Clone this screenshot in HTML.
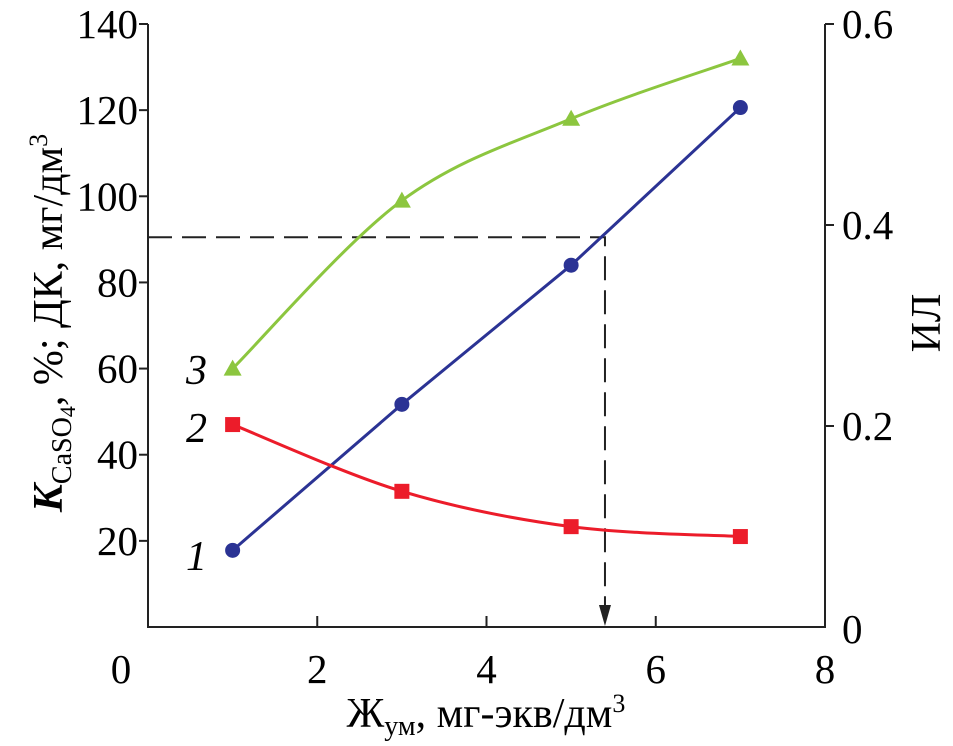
<!DOCTYPE html>
<html><head><meta charset="utf-8"><style>
html,body{margin:0;padding:0;background:#fff;}
svg{display:block;font-family:"Liberation Serif",serif;}
</style></head><body>
<svg id="chart" width="953" height="746" viewBox="0 0 953 746" xmlns="http://www.w3.org/2000/svg">
<g id="axes"></g>
<g id="series"></g>
<text transform="translate(62,323) rotate(-90)" text-anchor="middle" font-size="42"><tspan font-style="italic" font-weight="bold">K</tspan><tspan font-size="28" dy="9">CaSO</tspan><tspan font-size="22" dy="4">4</tspan><tspan dy="-13">, %; ДК, мг/дм</tspan><tspan font-size="26" dy="-15">3</tspan></text>
<text transform="translate(940,323) rotate(-90)" text-anchor="middle" font-size="42">ИЛ</text>
<text x="486" y="727" text-anchor="middle" font-size="42">Ж<tspan font-size="28" dy="8">ум</tspan><tspan dy="-8">, мг-экв/дм</tspan><tspan font-size="26" dy="-15">3</tspan></text>
<text x="186" y="570" font-size="42" font-style="italic">1</text>
<text x="186" y="442" font-size="42" font-style="italic">2</text>
<text x="186" y="384" font-size="42" font-style="italic">3</text>
</svg>
<script>
const xValues=[1,3,5,7];
const series1=[17.8,51.7,84,120.6];
const series2=[47,31.5,23.3,21];
const series3=[60,99,118,132];
const xTicks=[0,2,4,6,8];
const yTicks=[20,40,60,80,100,120,140];
const y2Ticks=[0,0.2,0.4,0.6];
const markerX=5.4, markerY=90.5;

const X0=148,X1=825,Y0=627,Y1=24;
const sx=v=>X0+(v/8)*(X1-X0);
const sy=v=>Y0-(v/140)*(Y0-Y1);
const sy2=v=>Y0-(v/0.6)*(Y0-Y1);
const NS="http://www.w3.org/2000/svg";
function mk(tag,attrs,parent){const e=document.createElementNS(NS,tag);for(const k in attrs)e.setAttribute(k,attrs[k]);parent.appendChild(e);return e;}
const axes=document.getElementById('axes'), ser=document.getElementById('series');

let e=mk('path',{d:`M${X0},${Y1} V${Y0} H${X1} V${Y1}`,fill:'none',stroke:'#222','stroke-width':2},axes);


xTicks.forEach(t=>{
  if(t>0&&t<8){const l=mk('line',{x1:sx(t),x2:sx(t),y1:Y0,y2:Y0-11,stroke:'#222','stroke-width':2},axes);
  
  }
  const tx=mk('text',{x:sx(t)-(t===0?27:0),y:Y0+56,'text-anchor':'middle','font-size':41},axes);tx.textContent=t;
  
  
});
yTicks.forEach(t=>{
  const l=mk('line',{x1:X0,x2:X0-9,y1:sy(t),y2:sy(t),stroke:'#222','stroke-width':2},axes);
  
  
  const tx=mk('text',{x:X0-10,y:sy(t)+14,'text-anchor':'end','font-size':41},axes);tx.textContent=t;
  
  
});
y2Ticks.forEach(t=>{
  if(t>0){const l=mk('line',{x1:X1,x2:X1+9,y1:sy2(t),y2:sy2(t),stroke:'#222','stroke-width':2},axes);
  
  }
  const tx=mk('text',{x:X1+17,y:sy2(t)+14+(t===0?2:0),'font-size':41},axes);tx.textContent=t===0?'0':t.toFixed(1);
  
  
});
e=mk('path',{d:`M${X0},${sy(markerY)} H${sx(markerX)} V${Y0-4}`,fill:'none',stroke:'#222','stroke-width':2,'stroke-dasharray':'24,10'},ser);


e=mk('path',{d:`M${sx(markerX)-6},${Y0-22} L${sx(markerX)},${Y0-1} L${sx(markerX)+6},${Y0-22} Z`,fill:'#222'},ser);



function smooth(pts){
  let d=`M${pts[0][0]},${pts[0][1]}`;
  for(let i=0;i<pts.length-1;i++){
    const p0=pts[Math.max(i-1,0)],p1=pts[i],p2=pts[i+1],p3=pts[Math.min(i+2,pts.length-1)];
    const c1=[p1[0]+(p2[0]-p0[0])/6,p1[1]+(p2[1]-p0[1])/6];
    const c2=[p2[0]-(p3[0]-p1[0])/6,p2[1]-(p3[1]-p1[1])/6];
    d+=` C${c1[0]},${c1[1]} ${c2[0]},${c2[1]} ${p2[0]},${p2[1]}`;
  }
  return d;
}
function drawSeries(vals,color,marker,name,curved){
  const pts=xValues.map((x,i)=>[sx(x),sy(vals[i])]);
  const p=mk('path',{d:curved?smooth(pts):'M'+pts.map(q=>q.join(',')).join(' L'),fill:'none',stroke:color,'stroke-width':3},ser);
  
  
  pts.forEach(q=>{
    let m;
    if(marker==='circle') m=mk('circle',{cx:q[0],cy:q[1],r:7.5,fill:color},ser);
    else if(marker==='square') m=mk('rect',{x:q[0]-7.5,y:q[1]-7.5,width:15,height:15,fill:color},ser);
    else m=mk('path',{d:`M${q[0]},${q[1]-9} L${q[0]+9},${q[1]+7} L${q[0]-9},${q[1]+7} Z`,fill:color},ser);
    
    
  });
}
drawSeries(series1,'#2b3394','circle','series-1',false);
drawSeries(series2,'#ec1c2a','square','series-2',true);
drawSeries(series3,'#8cc63f','triangle','series-3',true);
</script>
</body></html>
